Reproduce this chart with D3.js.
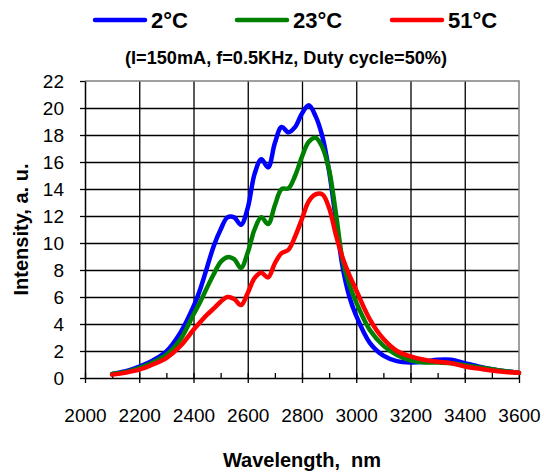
<!DOCTYPE html>
<html>
<head>
<meta charset="utf-8">
<script src="https://cdn.jsdelivr.net/npm/d3@7"></script>
<style>
  body { margin: 0; background: #fff; }
  text { font-family: "Liberation Sans", Arial, sans-serif; }
</style>
</head>
<body>
<script>
const wavelengths = [2100, 2150, 2200, 2250, 2300, 2350, 2400, 2425, 2450, 2475, 2500, 2525, 2550, 2575,
  2600, 2625, 2650, 2675, 2700, 2725, 2750, 2775, 2800, 2825, 2850, 2875, 2900, 2925, 2950, 2975,
  3000, 3050, 3100, 3150, 3200, 3250, 3300, 3350, 3400, 3450, 3500, 3550, 3600]

const blue2 = [0.3, 0.5, 0.85, 1.3, 1.97, 3.3, 5.3, 6.6, 8.2, 9.8, 11.0, 11.9, 11.9, 11.35,
  12.6, 15.1, 16.2, 15.6, 17.4, 18.6, 18.2, 18.6, 19.6, 20.2, 19.4, 17.9, 15.3, 11.7, 8.2, 6.0,
  4.6, 2.6, 1.65, 1.25, 1.15, 1.2, 1.35, 1.35, 1.1, 0.85, 0.65, 0.5, 0.38]

const green23 = [0.3, 0.45, 0.74, 1.15, 1.72, 2.8, 4.7, 5.65, 6.7, 7.7, 8.6, 8.95, 8.8, 8.15,
  9.3, 11.0, 11.9, 11.4, 12.8, 14.0, 14.05, 15.0, 16.4, 17.5, 17.8, 17.1, 15.4, 12.2, 8.7, 6.9,
  5.6, 3.55, 2.4, 1.7, 1.3, 1.15, 1.15, 1.1, 0.95, 0.8, 0.65, 0.5, 0.38]

const red51 = [0.25, 0.4, 0.62, 1.0, 1.48, 2.33, 3.57, 4.15, 4.7, 5.15, 5.65, 6.0, 5.85, 5.4,
  6.3, 7.4, 7.8, 7.45, 8.5, 9.25, 9.5, 10.5, 11.8, 13.1, 13.6, 13.6, 12.6, 10.6, 8.9, 7.6,
  6.5, 4.35, 2.9, 2.0, 1.6, 1.35, 1.2, 1.1, 0.85, 0.7, 0.55, 0.45, 0.38]

const seriesNames = ["2°C", "23°C", "51°C"]
const seriesColors = ["#0000ff", "#008000", "#ff0000"]
const xTicks = [2000, 2200, 2400, 2600, 2800, 3000, 3200, 3400, 3600]
const xMinorTicks = [2100, 2300, 2500, 2700, 2900, 3100, 3300, 3500]
const yTicks = [0, 2, 4, 6, 8, 10, 12, 14, 16, 18, 20, 22]

const dims = { w: 544, h: 474, pl: 85, pr: 25, pt: 81, pb: 96 }

const svg = d3.select("body").append("svg")
  .attr("width", dims.w)
  .attr("height", dims.h)

const xScale = d3.scaleLinear().domain([2000, 3600]).range([dims.pl, dims.w - dims.pr])
const yScale = d3.scaleLinear().domain([0, 22]).range([dims.h - dims.pb, dims.pt])

// grid
svg.append("g")
  .attr("transform", `translate(${dims.pl}, 0)`)
  .call(d3.axisLeft(yScale).tickValues(yTicks.slice(1, -1)).tickSize(-(dims.w - dims.pl - dims.pr)).tickFormat(""))
  .call(g => g.select(".domain").remove())
  .selectAll("line").attr("stroke", "#000").attr("stroke-width", 1.3)

svg.append("g")
  .attr("transform", `translate(0, ${dims.h - dims.pb})`)
  .call(d3.axisBottom(xScale).tickValues(xTicks.slice(1, -1)).tickSize(-(dims.h - dims.pt - dims.pb)).tickFormat(""))
  .call(g => g.select(".domain").remove())
  .selectAll("line").attr("stroke", "#000").attr("stroke-width", 1.3)

// gray border top/right
svg.append("path")
  .attr("d", `M${xScale(2000)},${yScale(22)}H${xScale(3600)}V${yScale(0)}`)
  .attr("fill", "none").attr("stroke", "#808080").attr("stroke-width", 1.5)

// axes
const yAxis = svg.append("g")
  .attr("transform", `translate(${dims.pl}, 0)`)
  .call(d3.axisLeft(yScale).tickValues(yTicks).tickSize(5).tickPadding(16).tickSizeOuter(0).tickFormat(d3.format("d")))
yAxis.select(".domain").attr("stroke", "#000").attr("stroke-width", 1.5)
yAxis.selectAll("line").attr("stroke", "#000").attr("stroke-width", 1.3)
yAxis.selectAll("text").attr("font-size", 19).attr("fill", "#000")
  .attr("font-family", "Liberation Sans, Arial, sans-serif")

const xAxis = svg.append("g")
  .attr("transform", `translate(0, ${dims.h - dims.pb})`)
  .call(d3.axisBottom(xScale).tickValues(xTicks).tickSize(5).tickPadding(26).tickSizeOuter(0).tickFormat(d3.format("d")))
xAxis.select(".domain").attr("stroke", "#000").attr("stroke-width", 1.5)
xAxis.selectAll(".tick line").attr("y1", -5).attr("y2", 5).attr("stroke", "#000").attr("stroke-width", 1.3)
xAxis.selectAll("text").attr("font-size", 19).attr("fill", "#000")
  .attr("font-family", "Liberation Sans, Arial, sans-serif")

svg.append("g")
  .attr("transform", `translate(0, ${dims.h - dims.pb})`)
  .call(d3.axisBottom(xScale).tickValues(xMinorTicks).tickSize(-5).tickFormat(""))
  .call(g => g.select(".domain").remove())
  .selectAll("line").attr("stroke", "#000").attr("stroke-width", 1.3)

// curves
const line = d3.line()
  .x((d, i) => xScale(wavelengths[i]))
  .y(d => yScale(d))
  .curve(d3.curveCatmullRom.alpha(0.5))

svg.append("g")
  .selectAll("path")
  .data([blue2, green23, red51])
  .enter()
  .append("path")
  .attr("d", line)
  .attr("fill", "none")
  .attr("stroke", (d, i) => seriesColors[i])
  .attr("stroke-width", 4.5)
  .attr("stroke-linejoin", "round")
  .attr("stroke-linecap", "round")

// legend
const legendX = [95, 237, 392]
const legend = svg.append("g")
legend.selectAll("line")
  .data(seriesNames)
  .enter()
  .append("line")
  .attr("x1", (d, i) => legendX[i])
  .attr("x2", (d, i) => legendX[i] + 50)
  .attr("y1", 20).attr("y2", 20)
  .attr("stroke", (d, i) => seriesColors[i])
  .attr("stroke-width", 4.5)
  .attr("stroke-linecap", "round")
legend.selectAll("text")
  .data(seriesNames)
  .enter()
  .append("text")
  .text(d => d)
  .attr("x", (d, i) => legendX[i] + 56)
  .attr("y", 28)
  .attr("font-size", 22)
  .attr("font-weight", "bold")

svg.append("text")
  .text("(I=150mA, f=0.5KHz, Duty cycle=50%)")
  .attr("x", 125).attr("y", 64)
  .attr("font-size", 18)
  .attr("font-weight", "bold")
  .attr("textLength", 322)
  .attr("lengthAdjust", "spacingAndGlyphs")

svg.append("text")
  .text("Intensity, a. u.")
  .attr("transform", `translate(28, ${(dims.pt + dims.h - dims.pb) / 2}) rotate(-90)`)
  .attr("text-anchor", "middle")
  .attr("font-size", 20)
  .attr("font-weight", "bold")

svg.append("text")
  .text("Wavelength,  nm")
  .style("white-space", "pre")
  .attr("x", (dims.pl + dims.w - dims.pr) / 2)
  .attr("y", 467)
  .attr("text-anchor", "middle")
  .attr("font-size", 20)
  .attr("font-weight", "bold")
</script>
</body>
</html>
